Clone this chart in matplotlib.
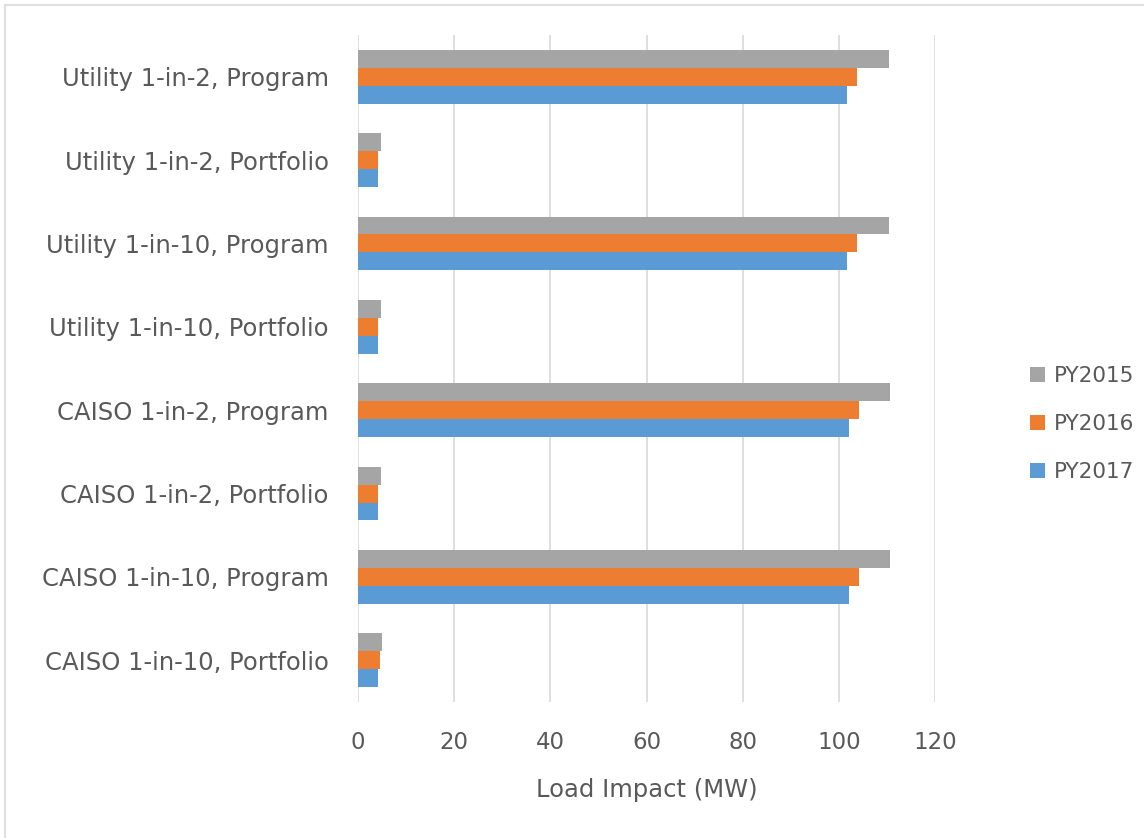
import matplotlib.pyplot as plt
import numpy as np
from matplotlib.lines import Line2D

plt.rcParams['font.family'] = ['DejaVu Sans']

categories = ["Utility 1-in-2, Program", "Utility 1-in-2, Portfolio",
              "Utility 1-in-10, Program", "Utility 1-in-10, Portfolio",
              "CAISO 1-in-2, Program", "CAISO 1-in-2, Portfolio",
              "CAISO 1-in-10, Program", "CAISO 1-in-10, Portfolio"]
py2015 = [110.4, 4.8, 110.4, 4.8, 110.7, 4.8, 110.7, 4.9]
py2016 = [103.8, 4.1, 103.8, 4.1, 104.1, 4.1, 104.1, 4.5]
py2017 = [101.8, 4.1, 101.8, 4.1, 102.1, 4.1, 102.1, 4.1]
series = [("PY2015", py2015, "#A5A5A5"),
          ("PY2016", py2016, "#ED7D31"),
          ("PY2017", py2017, "#5B9BD5")]
xticks = [0, 20, 40, 60, 80, 100, 120]

text_col = "#595959"
fs = 15.5

fig = plt.figure(figsize=(11.44, 8.38), dpi=100)
ax = fig.add_axes([358 / 1144, 1 - 702 / 838, (935 - 358) / 1144, (702 - 35) / 838])

y = np.arange(len(categories))
h = 0.215
for i, (name, vals, col) in enumerate(series):
    ax.barh(y + (i - 1) * h, vals, height=h, color=col, label=name, zorder=3)

ax.set_ylim(len(categories) - 0.5, -0.5)
ax.set_xlim(0, 120)
ax.set_yticks(y)
ax.set_yticklabels(categories)
ax.set_xticks(xticks)
ax.tick_params(axis='both', length=0, colors=text_col, labelsize=fs)
ax.tick_params(axis='y', pad=21, labelsize=17.5)
ax.tick_params(axis='x', pad=21, labelsize=16.5)
ax.grid(axis='x', color="#D9D9D9", linewidth=1.2, zorder=0)
for s in ax.spines.values():
    s.set_visible(False)
ax.set_xlabel("Load Impact (MW)", color=text_col, fontsize=17.5, labelpad=17)

handles, labels = ax.get_legend_handles_labels()
fig.legend(handles, labels, loc='center left', bbox_to_anchor=(1011 / 1144, 1 - 424 / 838),
           frameon=False, fontsize=fs, labelcolor=text_col, handlelength=0.7,
           handleheight=0.7, handletextpad=0.4, labelspacing=1.3)

# chart area border
fig.add_artist(Line2D([4.5 / 1144, 4.5 / 1144], [0, 1 - 5 / 838], transform=fig.transFigure,
                      color="#D9D9D9", linewidth=1.2))
fig.add_artist(Line2D([4.5 / 1144, 1], [1 - 5 / 838, 1 - 5 / 838], transform=fig.transFigure,
                      color="#D9D9D9", linewidth=1.2))

fig.savefig("out.png", dpi=100)
